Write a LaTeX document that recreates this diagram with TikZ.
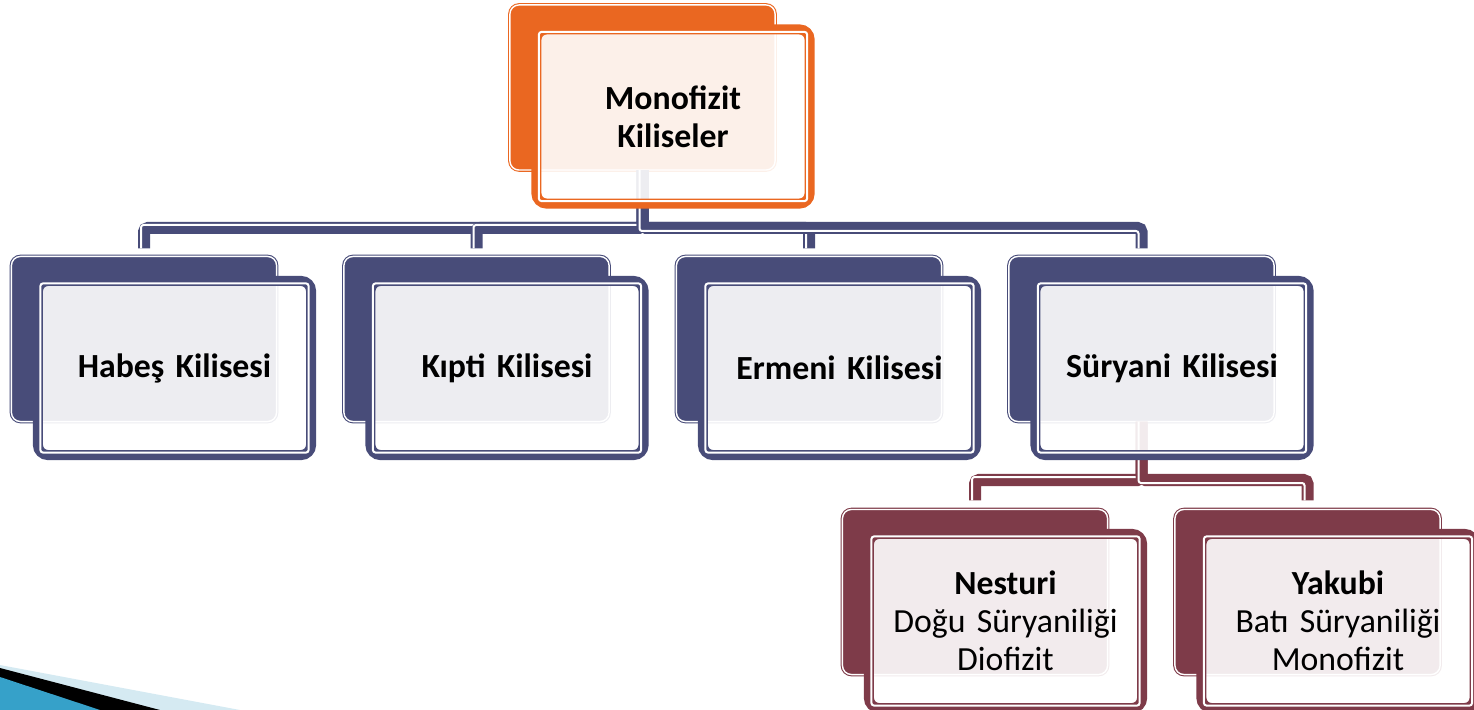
\documentclass[tikz,border=0pt]{standalone}
\usepackage{fontspec}
\setmainfont{Carlito}
\usetikzlibrary{calc}
\definecolor{turuncu}{HTML}{EA6721}
\definecolor{lacivert}{HTML}{484C79}
\definecolor{bordo}{HTML}{7E3B49}
\definecolor{acikmavi}{HTML}{D5EAF2}
\definecolor{mavi}{HTML}{36A1C9}
\begin{document}
\begin{tikzpicture}[x=0.01cm, y=-0.01cm,
back/.style={rectangle, rounded corners=0.09cm, minimum width=2.65cm, minimum height=1.65cm, outer sep=0pt, fill=#1, draw=#1, line width=0.3pt, double=white, double distance=0.4pt},
front/.style={rectangle, rounded corners=0.1cm, minimum width=2.73cm, minimum height=1.74cm, outer sep=0pt, draw=#1, line width=0.1cm, fill=white, fill opacity=0.9, text opacity=1, inner sep=0pt, text width=2.6cm, align=center, font=\fontsize{9.6}{10.8}\selectfont\bfseries},
conn/.style={draw=#1, line width=0.12cm, rounded corners=0.04cm},
gap/.style={draw=white, line width=0.02cm, rounded corners=0.025cm}]
\useasboundingbox (0,0) rectangle (1474,710);
% slide corner
\fill[acikmavi] (0,665) -- (240,710) -- (0,710) -- cycle;
\fill[black] (0,668) -- (160,710) -- (0,710) -- cycle;
\fill[mavi] (0,677) -- (100,710) -- (0,710) -- cycle;
% back boxes
\node[back=turuncu] (monoback) at (642.5,87.5) {};
\node[back=lacivert] (habesback) at (144,339) {};
\node[back=lacivert] (kiptiback) at (476.5,339) {};
\node[back=lacivert] (ermeniback) at (809,339) {};
\node[back=lacivert] (suryaniback) at (1141.5,339) {};
\node[back=bordo] (nesturiback) at (975,592) {};
\node[back=bordo] (yakubiback) at (1307.5,592) {};
\coordinate (bar) at (0,228);
\coordinate (altbar) at (0,480);
% connectors
\draw[conn=lacivert] (monoback.south) -- (monoback.south |- bar) -| ($(habesback.north)+(0,-8)$);
\draw[gap] ($(monoback.south)+(-3,0)$) -- ($(monoback.south |- bar)+(-3,-3)$) -- ($(habesback.north |- bar)+(-3,-3)$) -- ($(habesback.north)+(-3,-8)$);
\draw[conn=lacivert] (monoback.south) -- (monoback.south |- bar) -| ($(kiptiback.north)+(0,-8)$);
\draw[gap] ($(monoback.south)+(-3,0)$) -- ($(monoback.south |- bar)+(-3,-3)$) -- ($(kiptiback.north |- bar)+(-3,-3)$) -- ($(kiptiback.north)+(-3,-8)$);
\draw[conn=lacivert] (monoback.south) -- (monoback.south |- bar) -| ($(ermeniback.north)+(0,-8)$);
\draw[gap] ($(monoback.south)+(-3,0)$) -- ($(monoback.south |- bar)+(-3,3)$) -- ($(ermeniback.north |- bar)+(-3,3)$) -- ($(ermeniback.north)+(-3,-8)$);
\draw[conn=lacivert] (monoback.south) -- (monoback.south |- bar) -| ($(suryaniback.north)+(0,-8)$);
\draw[gap] ($(monoback.south)+(-3,0)$) -- ($(monoback.south |- bar)+(-3,3)$) -- ($(suryaniback.north |- bar)+(-3,3)$) -- ($(suryaniback.north)+(-3,-8)$);
\draw[conn=bordo] (suryaniback.south) -- (suryaniback.south |- altbar) -| ($(nesturiback.north)+(0,-9)$);
\draw[gap] ($(suryaniback.south)+(-3,0)$) -- ($(suryaniback.south |- altbar)+(-3,-3)$) -- ($(nesturiback.north |- altbar)+(-3,-3)$) -- ($(nesturiback.north)+(-3,-9)$);
\draw[conn=bordo] (suryaniback.south) -- (suryaniback.south |- altbar) -| ($(yakubiback.north)+(0,-9)$);
\draw[gap] ($(suryaniback.south)+(-3,0)$) -- ($(suryaniback.south |- altbar)+(-3,3)$) -- ($(yakubiback.north |- altbar)+(-3,3)$) -- ($(yakubiback.north)+(-3,-9)$);
% front boxes
\node[front=turuncu] (mono) at ($(monoback)+(30.5,29)$) {Monofizit\\Kiliseler};
\node[front=lacivert] (habes) at ($(habesback)+(30.5,29)$) {Habeş Kilisesi};
\node[front=lacivert] (kipti) at ($(kiptiback)+(30.5,29)$) {Kıpti Kilisesi};
\node[front=lacivert] (ermeni) at ($(ermeniback)+(30.5,29)$) {Ermeni Kilisesi};
\node[front=lacivert] (suryani) at ($(suryaniback)+(30.5,29)$) {Süryani Kilisesi};
\node[front=bordo] (nesturi) at ($(nesturiback)+(30.5,29)$) {Nesturi\\\mdseries Doğu Süryaniliği\\Diofizit};
\node[front=bordo] (yakubi) at ($(yakubiback)+(30.5,29)$) {Yakubi\\\mdseries Batı Süryaniliği\\Monofizit};
\foreach \n in {mono,habes,kipti,ermeni,suryani,nesturi,yakubi}
  \draw[gap] ($(\n.north west)+(2.5,2.5)$) rectangle ($(\n.south east)+(-2.5,-2.5)$);
\end{tikzpicture}
\end{document}
